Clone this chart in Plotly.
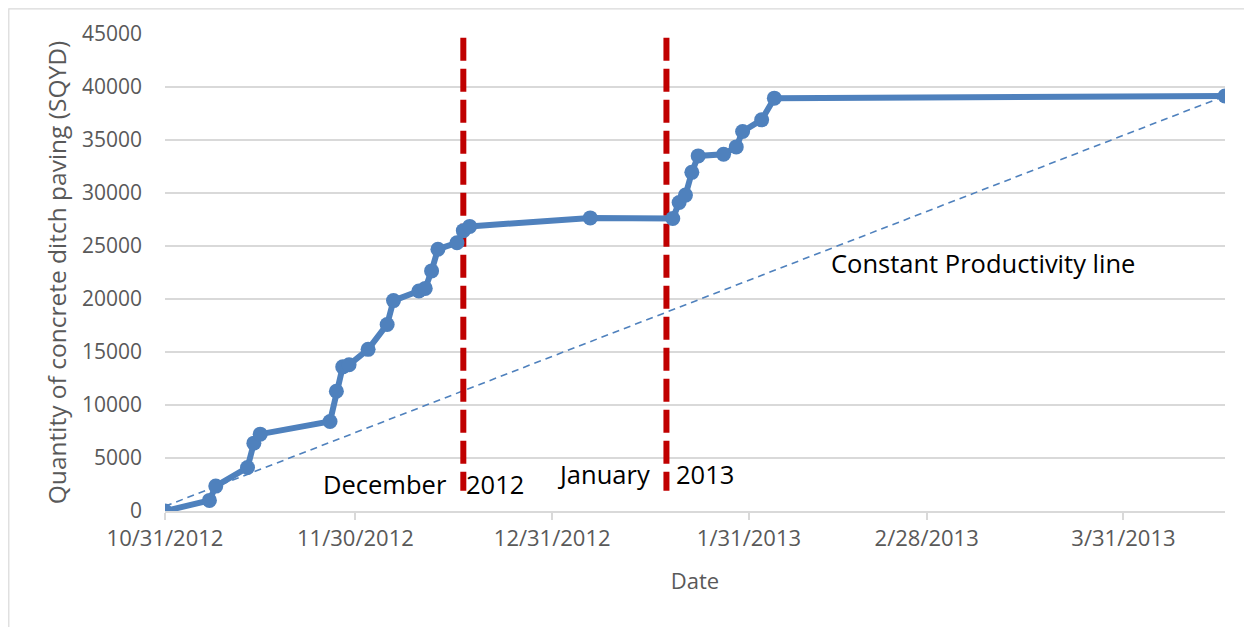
import plotly.graph_objects as go

# ---- data ----
dates = ["2012-10-31", "2012-11-07", "2012-11-08", "2012-11-13", "2012-11-14", "2012-11-15",
         "2012-11-26", "2012-11-27", "2012-11-28", "2012-11-29", "2012-12-02", "2012-12-05",
         "2012-12-06", "2012-12-10", "2012-12-11", "2012-12-12", "2012-12-13", "2012-12-16",
         "2012-12-17", "2012-12-18", "2013-01-06", "2013-01-19", "2013-01-20", "2013-01-21",
         "2013-01-22", "2013-01-23", "2013-01-27", "2013-01-29", "2013-01-30", "2013-02-02",
         "2013-02-04", "2013-04-16"]
quantity = [0, 1000, 2350, 4100, 6400, 7250,
            8450, 11300, 13600, 13800, 15250, 17600,
            19850, 20750, 21000, 22650, 24700, 25300,
            26450, 26850, 27650, 27600, 29100, 29800,
            31950, 33500, 33650, 34350, 35800, 36900,
            38950, 39150]

const_dates = ["2012-10-31", "2013-04-16"]
const_values = [450, 39150]

month_lines = ["2012-12-17", "2013-01-18"]
month_line_span = [44650, 1900]

tick_dates = ["2012-10-31", "2012-11-30", "2012-12-31", "2013-01-31", "2013-02-28", "2013-03-31"]
tick_labels = ["10/31/2012", "11/30/2012", "12/31/2012", "1/31/2013", "2/28/2013", "3/31/2013"]

FONT = "Open Sans"
GRAY = "#595959"
BLUE = "#4f81bd"
RED = "#c00000"

fig = go.Figure()

fig.add_trace(go.Scatter(
    x=const_dates, y=const_values, mode="lines",
    line=dict(color=BLUE, width=1.6, dash="7px,5px"),
    showlegend=False, hoverinfo="skip"))

for d in month_lines:
    fig.add_trace(go.Scatter(
        x=[d, d], y=month_line_span, mode="lines",
        line=dict(color=RED, width=6, dash="23px,8px"),
        showlegend=False, hoverinfo="skip"))

fig.add_trace(go.Scatter(
    x=dates, y=quantity, mode="lines+markers",
    line=dict(color=BLUE, width=6),
    marker=dict(color=BLUE, size=15),
    showlegend=False))

ann_font = dict(family=FONT, size=25.5, color="black")
fig.add_annotation(x=month_lines[0], y=2550, text="December", showarrow=False,
                   xanchor="right", xshift=-14, font=ann_font)
fig.add_annotation(x=month_lines[0], y=2550, text="2012", showarrow=False,
                   xanchor="left", xshift=1, font=ann_font)
fig.add_annotation(x=month_lines[1], y=3450, text="January", showarrow=False,
                   xanchor="right", xshift=-14, font=ann_font)
fig.add_annotation(x=month_lines[1], y=3450, text="2013", showarrow=False,
                   xanchor="left", xshift=8, font=ann_font)
fig.add_annotation(x="2013-02-13", y=23400, text="Constant Productivity line", showarrow=False,
                   xanchor="left", xshift=-2, font=ann_font)

# chart-area border (left & top), at the very edge of the figure
ML, MR, MT, MB = 157, 35, 26, 124
PW, PH = 1252 - ML - MR, 627 - MT - MB
fig.add_shape(type="rect", xref="paper", yref="paper",
              x0=(0.8 - ML) / PW, x1=(1300 - ML) / PW,
              y0=-(700 - 627 + MB) / PH, y1=1 + (MT - 0.8) / PH,
              line=dict(color="#d9d9d9", width=1.2), fillcolor="rgba(0,0,0,0)", layer="below")

fig.update_layout(
    width=1252, height=627,
    margin=dict(l=ML, r=MR, t=MT, b=MB),
    paper_bgcolor="white", plot_bgcolor="white",
    font=dict(family=FONT, color=GRAY),
    xaxis=dict(
        type="date", range=["2012-10-31", "2013-04-16"], automargin=False,
        tickvals=tick_dates, ticktext=tick_labels,
        showgrid=False, zeroline=False,
        showline=True, linecolor="#d9d9d9", linewidth=1.5,
        ticks="outside", ticklen=7, tickcolor="#d9d9d9", tickwidth=1.5,
        tickfont=dict(family=FONT, size=22, color=GRAY),
        title=dict(text="Date", font=dict(family=FONT, size=22, color=GRAY), standoff=22),
    ),
    yaxis=dict(
        range=[0, 45000], dtick=5000, tickformat="d", automargin=False,
        showgrid=True, gridcolor="#d9d9d9", gridwidth=1.5,
        zeroline=False, showline=False, ticks="",
        ticklabelstandoff=22,
        tickfont=dict(family=FONT, size=21, color=GRAY),
        title=dict(text="Quantity of concrete ditch paving (SQYD)",
                   font=dict(family=FONT, size=24.5, color=GRAY), standoff=8),
    ),
)

fig.write_html("out.html")
